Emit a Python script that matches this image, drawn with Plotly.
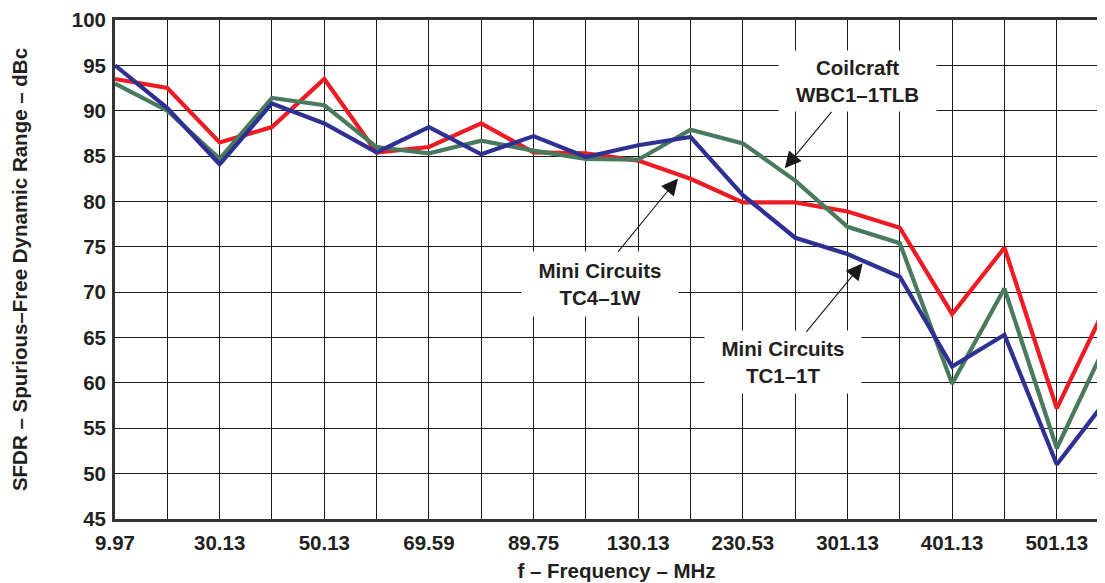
import plotly.graph_objects as go

# ---- data ----
freq_labels = ["9.97", "30.13", "50.13", "69.59", "89.75",
               "130.13", "230.53", "301.13", "401.13", "501.13"]
points_per_label = 2  # one measurement on every vertical grid line, labels on every other

tc4_1w = [93.5, 92.5, 86.5, 88.2, 93.5, 85.4, 86.0, 88.6, 85.4, 85.3,
          84.5, 82.5, 79.9, 79.9, 78.9, 77.1, 67.6, 74.9, 57.2, 69.2]
wbc1_1tlb = [93.0, 90.0, 84.7, 91.4, 90.6, 86.0, 85.3, 86.7, 85.6, 84.7,
             84.6, 87.9, 86.4, 82.3, 77.2, 75.4, 59.9, 70.4, 52.8, 65.0]
tc1_1t = [95.0, 90.3, 84.1, 90.8, 88.6, 85.4, 88.2, 85.2, 87.2, 84.9,
          86.2, 87.1, 80.7, 76.0, 74.2, 71.7, 61.8, 65.3, 51.0, 58.5]

y_ticks = list(range(45, 101, 5))

series = [
    ("Mini Circuits TC4-1W", tc4_1w, "#ED1C24"),
    ("Coilcraft WBC1-1TLB", wbc1_1tlb, "#4A7A5E"),
    ("Mini Circuits TC1-1T", tc1_1t, "#2E3192"),
]

n = len(tc4_1w)
x_idx = list(range(n))
n_grid = (len(freq_labels) - 1) * points_per_label + 2
tickvals = list(range(n_grid))
ticktext = [f"<b>{freq_labels[i // points_per_label]}</b>"
            if i % points_per_label == 0 and i // points_per_label < len(freq_labels) else ""
            for i in tickvals]

FONT = "Liberation Sans, Arial, Helvetica, sans-serif"
TXT = "#231F20"
FS = 20.5

fig = go.Figure()
for name, vals, col in series:
    fig.add_trace(go.Scatter(x=x_idx, y=vals, mode="lines", name=name,
                             line=dict(color=col, width=4.2), showlegend=False))

fig.update_layout(
    width=1110, height=575,
    margin=dict(l=107, r=0, t=12, b=64),
    paper_bgcolor="white", plot_bgcolor="white",
    font=dict(family=FONT, size=FS, color=TXT),
)

fig.update_xaxes(
    range=[0, 19.17], tickmode="array", tickvals=tickvals, ticktext=ticktext,
    showgrid=True, gridcolor="#1a1a1a", gridwidth=1.2,
    showline=True, linecolor="#333333", linewidth=2.8, mirror=True,
    ticks="", zeroline=False, ticklabelstandoff=3,
    tickfont=dict(family=FONT, size=FS, color=TXT),
    title=dict(text="<b>f – Frequency – MHz</b>", standoff=12,
               font=dict(family=FONT, size=FS, color=TXT)),
)
fig.update_yaxes(
    range=[45, 100], tickmode="array", tickvals=y_ticks,
    ticktext=[f"<b>{v}</b>" for v in y_ticks],
    showgrid=True, gridcolor="#1a1a1a", gridwidth=1.2,
    showline=True, linecolor="#333333", linewidth=2.8,
    ticks="", zeroline=False, ticklabelstandoff=2,
    tickfont=dict(family=FONT, size=FS, color=TXT),
    title=dict(text="<b>SFDR – Spurious–Free Dynamic Range – dBc</b>", standoff=42,
               font=dict(family=FONT, size=FS, color=TXT)),
)

# labels with white boxes
labels = [
    ("<b>Coilcraft<br>WBC1–1TLB</b>", 14.2, 93.3, 157, 60),
    ("<b>Mini Circuits<br>TC4–1W</b>", 9.27, 70.9, 156, 64),
    ("<b>Mini Circuits<br>TC1–1T</b>", 12.77, 62.3, 156, 62),
]
for txt, xa, ya, w, h in labels:
    fig.add_annotation(x=xa, y=ya, xref="x", yref="y", text=txt, showarrow=False,
                       bgcolor="white", width=w, height=h, borderpad=0,
                       font=dict(family=FONT, size=FS, color=TXT))

arrows = [
    (12.80, 83.65, 13.72, 90.03),
    (10.76, 82.54, 9.59, 74.28),
    (14.29, 73.18, 13.19, 65.47),
]
for x_tip, y_tip, x_tail, y_tail in arrows:
    fig.add_annotation(x=x_tip, y=y_tip, ax=x_tail, ay=y_tail, xref="x", yref="y",
                       axref="x", ayref="y", text="", showarrow=True,
                       arrowhead=2, arrowsize=3, arrowwidth=1.1, arrowcolor="#1a1a1a")

fig.write_html("out.html")
